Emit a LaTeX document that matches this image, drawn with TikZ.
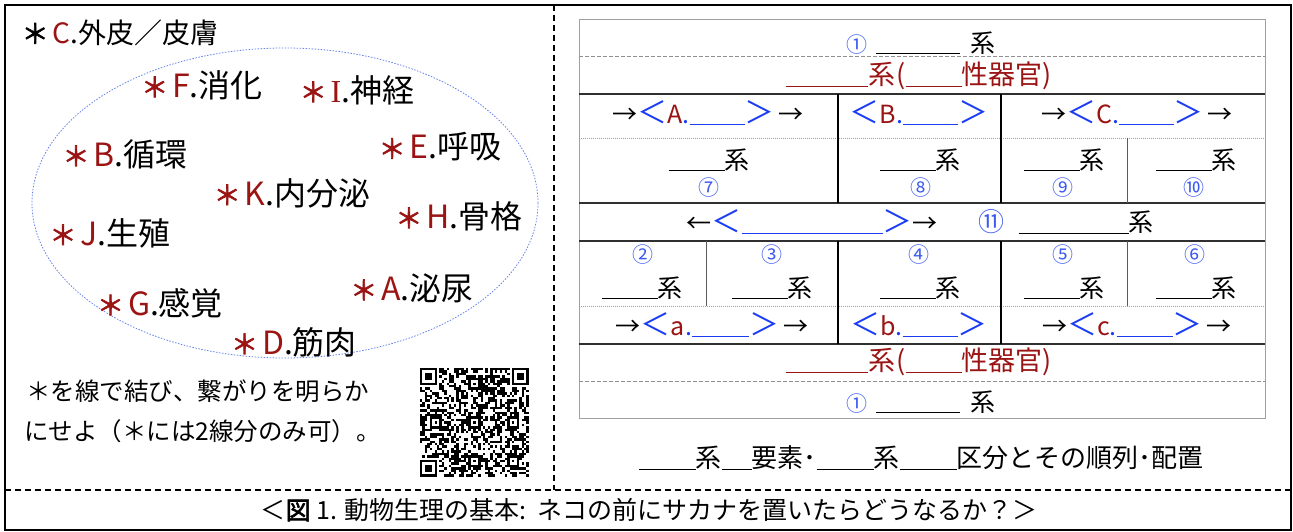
\documentclass[tikz,border=0pt]{standalone}
\usepackage{fontspec}
\setmainfont{Noto Sans CJK JP}
\newfontfamily\jpbold[FakeBold=2.5]{Noto Sans CJK JP}
\newfontfamily\latserif{Liberation Serif}
\definecolor{cr}{HTML}{9A1414}
\definecolor{cb}{HTML}{1A3CF5}
\definecolor{cn}{HTML}{3C5AF0}
\definecolor{ce}{HTML}{6482EB}
\definecolor{tg}{HTML}{A0A0A0}
\definecolor{td}{HTML}{303030}
\newcommand{\fs}[1]{\fontsize{#1bp}{#1bp}\selectfont}
\newcommand{\blnk}[2][black]{{\color{#1}\rule[-2bp]{#2}{1bp}}}
\newcommand{\lt}{\textcolor{cb}{\fs{30}＜}}
\newcommand{\gt}{\textcolor{cb}{\fs{30}＞}}
\newcommand{\cnum}[1]{\textcolor{cn}{#1}}
\newcommand{\aster}[1][cr]{\textcolor{#1}{{\jpbold\fs{27}＊}}\hspace{4bp}}
\begin{document}
\begin{tikzpicture}[x=1bp,y=-1bp,
  lab/.style={font=\fs{32}, inner sep=0pt},
  tx/.style={font=\fs{25}, inner sep=0pt},
  num/.style={font=\fs{21}, text=cn, inner sep=0pt},
  framel/.style={line width=2.5bp, black},
  dashl/.style={line width=2bp, black, dash pattern=on 6bp off 4bp},
  tborder/.style={line width=1bp, tg},
  tsolid/.style={line width=1.3bp, td},
  tthick/.style={line width=2bp, black},
  tthin/.style={line width=1bp, td!80},
  tdash/.style={line width=1bp, tg!90!black, dash pattern=on 4bp off 2bp},
  tdot/.style={line width=0.7bp, tg, dash pattern=on 1bp off 1bp}]
\useasboundingbox (0,0) rectangle (1293,532);
% outer frame
\draw[framel] (5,5) rectangle (1291,530);
\draw[dashl] (554,5) -- (554,490);
\draw[dashl] (5,490) -- (1291,490);

% ---------- left panel ----------
\draw[ce, line width=0.8bp, dash pattern=on 1.5bp off 1.5bp] (285,203) ellipse [x radius=253bp, y radius=155bp];
\node[lab, font=\fs{28}] (lC) at (120,33) {\aster[black]\textcolor{cr}{C}.外皮／皮膚};
\node[lab] (lF) at (202,85) {\aster\textcolor{cr}{F}.消化};
\node[lab] (lI) at (357,90) {\aster\textcolor{cr}{\latserif I}.神経};
\node[lab] (lE) at (440,147) {\aster\textcolor{cr}{E}.呼吸};
\node[lab] (lB) at (125,154) {\aster\textcolor{cr}{B}.循環};
\node[lab] (lK) at (292,193) {\aster\textcolor{cr}{K}.内分泌};
\node[lab] (lH) at (459,216) {\aster\textcolor{cr}{H}.骨格};
\node[lab] (lJ) at (110,233) {\aster\textcolor{cr}{J}.生殖};
\node[lab] (lA) at (412,288) {\aster\textcolor{cr}{A}.泌尿};
\node[lab] (lG) at (160,303) {\aster\textcolor{cr}{G}.感覚};
\node[lab] (lD) at (294,342) {\aster\textcolor{cr}{D}.筋肉};
\node[anchor=west, font=\fs{24.5}, inner sep=0pt] (ins1) at (26,391) {＊を線で結び、繋がりを明らか};
\node[anchor=west, font=\fs{24.5}, inner sep=0pt] (ins2) at (24,431) {にせよ（＊には2線分のみ可）。};

% QR code
\begin{scope}[shift={(420,368)}, x=2.42bp, y=-2.42bp]
\pgfmathsetseed{24681}
\foreach \i in {0,...,44}{\foreach \j in {0,...,44}{%
  \pgfmathrandominteger{\qrr}{0}{1}%
  \ifnum\qrr=1 \fill[black] (\i,\j) rectangle ++(1,1);\fi}}
\fill[white] (0,0) rectangle (8,8);
\fill[white] (37,0) rectangle (45,8);
\fill[white] (0,37) rectangle (8,45);
\foreach \a/\b in {0/0,38/0,0/38}{%
  \fill[black] (\a,\b) rectangle ++(7,7);
  \fill[white] (\a+1,\b+1) rectangle ++(5,5);
  \fill[black] (\a+2,\b+2) rectangle ++(3,3);}
\foreach \c/\d in {22/6,6/22,22/22,38/22,22/38,38/38}{%
  \fill[black] (\c-2,\d-2) rectangle ++(5,5);
  \fill[white] (\c-1,\d-1) rectangle ++(3,3);
  \fill[black] (\c,\d) rectangle ++(1,1);}
\end{scope}

% ---------- right table ----------
\draw[tborder] (579,20) rectangle (1265,419);
\draw[tdash] (579,57) -- (1265,57);
\draw[tdash] (579,382) -- (1265,382);
\draw[tdot] (579,138) -- (1265,138);
\draw[tdot] (579,306) -- (1265,306);
\foreach \yy in {94,203,241,344} \draw[tsolid] (579,\yy) -- (1265,\yy);
\draw[tthick] (838,94) -- (838,203);
\draw[tthick] (1001,94) -- (1001,203);
\draw[tthick] (838,241) -- (838,344);
\draw[tthick] (1001,241) -- (1001,344);
\draw[tthin] (1127,138) -- (1127,203);
\draw[tthin] (1127,241) -- (1127,306);
\draw[tthin] (706,241) -- (706,306);

\node[tx] (r1) at (921,43) {\cnum{\fs{21}①}\hspace{8bp}\blnk{84bp}\hspace{11bp}系};
\node[tx, text=cr, font=\fs{27}] (r2) at (919,76) {\blnk[cr]{82bp}系\hspace{1bp}(\blnk[cr]{56bp}性器官)};
\node[tx] (r3a) at (708,113) {→\lt\textcolor{cr}{A}\textcolor{cb}{.}\blnk[cb]{55bp}\gt\hspace{4bp}→};
\node[tx] (r3b) at (919,113) {\lt\textcolor{cr}{B}\textcolor{cb}{.}\blnk[cb]{55bp}\gt};
\node[tx] (r3c) at (1137,113) {→\lt\textcolor{cr}{C}\textcolor{cb}{.}\blnk[cb]{55bp}\gt\hspace{4bp}→};
\node[tx] (s7) at (709,160) {\blnk{56bp}系};
\node[tx] (s8) at (920,160) {\blnk{56bp}系};
\node[tx] (s9) at (1064,160) {\blnk{56bp}系};
\node[tx] (s10) at (1196,160) {\blnk{56bp}系};
\node[num] (n7) at (709,188) {⑦};
\node[num] (n8) at (921,188) {⑧};
\node[num] (n9) at (1063,188) {⑨};
\node[num] (n10) at (1194,188) {⑩};
\node[tx] (r5a) at (812,222) {←\lt\blnk[cb]{141bp}\gt→};
\node[tx] (r5b) at (1066,222) {\cnum{\fs{26}⑪}\hspace{14bp}\blnk{110bp}系};
\node[num] (n2) at (643,255) {②};
\node[num] (n3) at (772,255) {③};
\node[num] (n4) at (919,255) {④};
\node[num] (n5) at (1063,255) {⑤};
\node[num] (n6) at (1195,255) {⑥};
\node[tx] (s2) at (642,288) {\blnk{56bp}系};
\node[tx] (s3) at (772,288) {\blnk{56bp}系};
\node[tx] (s4) at (920,288) {\blnk{56bp}系};
\node[tx] (s5) at (1064,288) {\blnk{56bp}系};
\node[tx] (s6) at (1196,288) {\blnk{56bp}系};
\node[tx] (r7a) at (712,325) {→\lt\textcolor{cr}{a}\textcolor{cb}{.}\blnk[cb]{57bp}\gt\hspace{4bp}→};
\node[tx] (r7b) at (919,325) {\lt\textcolor{cr}{b}\textcolor{cb}{.}\blnk[cb]{55bp}\gt};
\node[tx] (r7c) at (1137,325) {→\lt\textcolor{cr}{c}\textcolor{cb}{.}\blnk[cb]{56bp}\gt\hspace{4bp}→};
\node[tx, text=cr, font=\fs{27}] (r8) at (919,362) {\blnk[cr]{82bp}系\hspace{1bp}(\blnk[cr]{56bp}性器官)};
\node[tx] (r9) at (921,402) {\cnum{\fs{21}①}\hspace{8bp}\blnk{84bp}\hspace{11bp}系};
\node[tx, font=\fs{26}] (bot) at (921,458) {\blnk{57bp}系\blnk{30bp}要素･\blnk{57bp}系\blnk{57bp}区分とその順列･配置};

% caption
\node[tx] (cap) at (649,510) {＜{\jpbold 図} 1. 動物生理の基本:\ \ ネコの前にサカナを置いたらどうなるか？＞};
\end{tikzpicture}
\end{document}
